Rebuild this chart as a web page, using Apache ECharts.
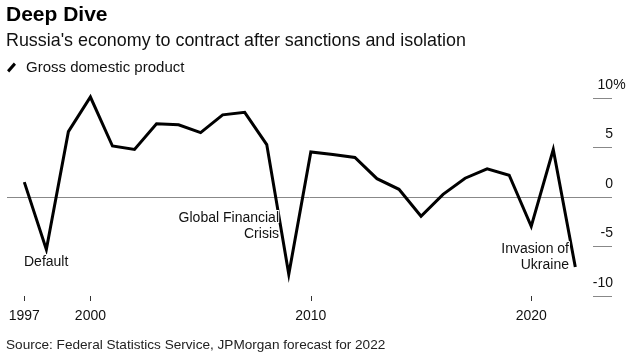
<!DOCTYPE html>
<html>
<head>
<meta charset="utf-8">
<script src="https://cdn.jsdelivr.net/npm/echarts@6/dist/echarts.min.js"></script>
<style>
html,body{margin:0;padding:0;background:#fff;}
#chart{width:643px;height:361px;}
</style>
</head>
<body>
<div id="chart"></div>
<script>
// ---- data ----
var years = [1997,1998,1999,2000,2001,2002,2003,2004,2005,2006,2007,2008,2009,2010,2011,2012,2013,2014,2015,2016,2017,2018,2019,2020,2021,2022];
var gdpGrowth = [1.5,-5.3,6.6,10.1,5.15,4.8,7.4,7.3,6.5,8.3,8.55,5.3,-7.8,4.55,4.3,4.0,1.85,0.78,-1.95,0.27,1.9,2.85,2.2,-2.96,4.8,-7.07];
var xTickYears = [1997,2000,2010,2020];
var yTicks = [-10,-5,0,5,10];
var seriesName = 'Gross domestic product';
var titleText = 'Deep Dive';
var subtitleText = "Russia's economy to contract after sanctions and isolation";
var sourceText = 'Source: Federal Statistics Service, JPMorgan forecast for 2022';
var annotations = [
  {text: 'Default'},
  {text: 'Global Financial\nCrisis'},
  {text: 'Invasion of\nUkraine'}
];

var FONT = "'Liberation Sans', Arial, sans-serif";
var lineData = years.map(function (y, i) { return [y, gdpGrowth[i]]; });

var chart = echarts.init(document.getElementById('chart'), null, {renderer: 'canvas'});
chart.setOption({
  animation: false,
  backgroundColor: '#fff',
  textStyle: {fontFamily: FONT},
  title: [
    {text: titleText, left: 6, top: 3, padding: 0,
     textStyle: {fontFamily: FONT, fontSize: 21, fontWeight: 'bold', color: '#000', lineHeight: 24}},
    {text: subtitleText, left: 6, top: 30, padding: 0,
     textStyle: {fontFamily: FONT, fontSize: 17.9, fontWeight: 'normal', color: '#111', lineHeight: 22}},
    {text: sourceText, left: 6, top: 337, padding: 0,
     textStyle: {fontFamily: FONT, fontSize: 13.6, fontWeight: 'normal', color: '#222', lineHeight: 16}}
  ],
  legend: {
    left: 7, top: 60, padding: 0,
    itemWidth: 9, itemHeight: 10,
    icon: 'path://M0,7.8 L6.8,0 L9,2.2 L2.2,10 Z',
    itemStyle: {color: '#000', borderWidth: 0},
    textStyle: {fontFamily: FONT, fontSize: 15, color: '#111', padding: [0, 0, 0, 5]},
    data: [seriesName]
  },
  grid: {left: 7, right: 31, top: 98, bottom: 65, containLabel: false},
  xAxis: {
    type: 'value',
    min: 1996.215, max: 2023.665,
    axisLine: {show: false, onZero: false},
    splitLine: {show: false},
    axisTick: {show: true, customValues: xTickYears, length: 5, lineStyle: {color: '#333', width: 1}},
    axisLabel: {show: true, customValues: xTickYears, margin: 13, fontSize: 14, color: '#111', fontFamily: FONT,
      formatter: function (v) { return String(v); }}
  },
  yAxis: {
    type: 'value',
    position: 'right',
    min: -10, max: 10, interval: 5,
    axisLine: {show: false},
    splitLine: {show: false},
    axisTick: {show: true, inside: true, length: 19, lineStyle: {color: '#888', width: 1}},
    axisLabel: {
      show: true, inside: false, margin: 14, align: 'right', verticalAlign: 'bottom',
      padding: [0, 0, 5, 0],
      formatter: function (v) {
        return v === 10 ? '{n|' + v + '}{p|%}' : '{n|' + v + '}{p| }';
      },
      rich: {
        n: {fontSize: 14, color: '#111', fontFamily: FONT, lineHeight: 16},
        p: {fontSize: 14, color: '#111', fontFamily: FONT, lineHeight: 16, width: 13, align: 'left'}
      }
    }
  },
  series: [{
    name: seriesName,
    type: 'line',
    data: lineData,
    showSymbol: false,
    symbol: 'none',
    clip: false,
    itemStyle: {color: '#000'},
    lineStyle: {color: '#000', width: 3, join: 'miter'},
    z: 3,
    markLine: {
      silent: true,
      symbol: ['none', 'none'],
      label: {show: false},
      lineStyle: {color: '#888', width: 1, type: 'solid'},
      emphasis: {disabled: true},
      data: [{yAxis: 0}],
      z: 1
    }
  }],
  graphic: [
    {type: 'text', left: 23, top: 254, z: 100,
     style: {text: annotations[0].text, font: '14px ' + FONT, fill: '#111', stroke: '#fff', lineWidth: 2, lineHeight: 16}},
    {type: 'text', x: 279, y: 226, z: 100,
     style: {text: annotations[1].text, font: '14px ' + FONT, fill: '#111', align: 'right', verticalAlign: 'middle', lineHeight: 16, stroke: '#fff', lineWidth: 2}},
    {type: 'text', x: 569, y: 257, z: 100,
     style: {text: annotations[2].text, font: '14px ' + FONT, fill: '#111', align: 'right', verticalAlign: 'middle', lineHeight: 16, stroke: '#fff', lineWidth: 2}}
  ]
});
</script>
</body>
</html>
